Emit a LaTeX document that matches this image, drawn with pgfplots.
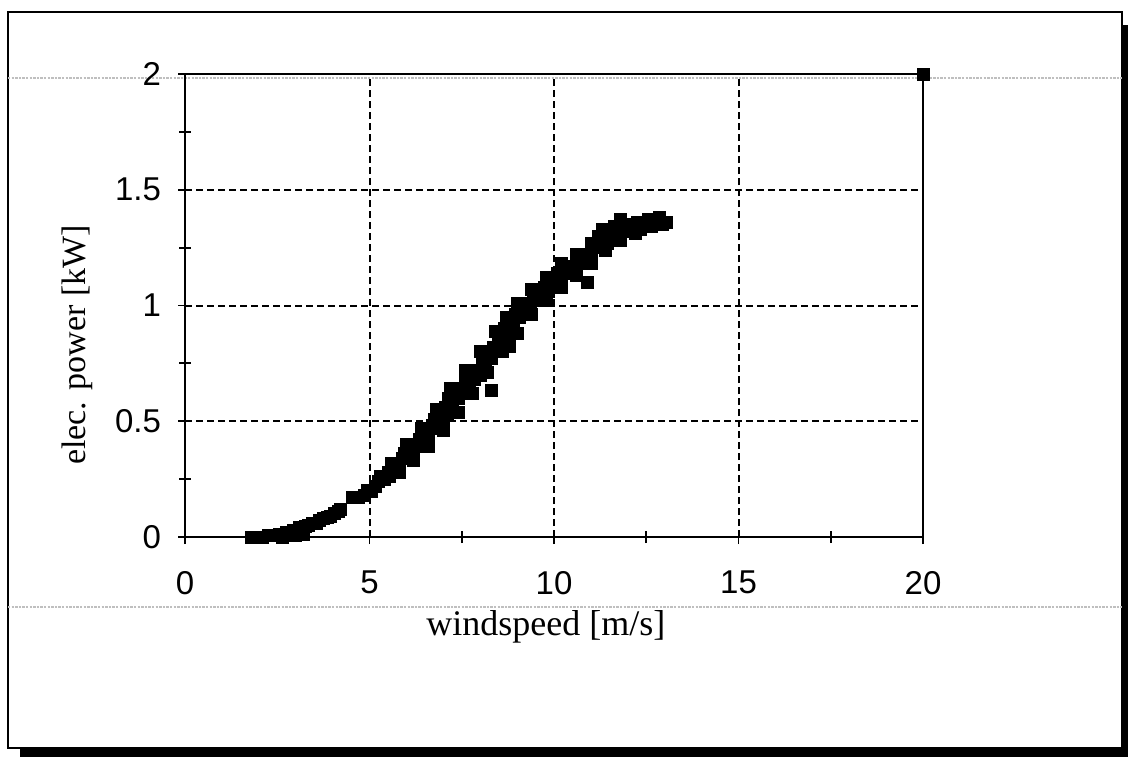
\documentclass[border=0pt]{standalone}
\usepackage{pgfplots}
\pgfplotsset{compat=1.18}
\usepackage{pgfplotstable}
\usepackage{fontspec}
\setmainfont{Liberation Serif}
\newfontfamily\arialf{Liberation Sans}

\pgfplotstableread{
x y
1.80 0.000
1.95 0.000
2.10 0.000
2.25 0.005
2.40 0.005
2.55 0.010
2.65 0.000
2.75 0.020
2.85 0.015
2.95 0.030
3.00 0.005
3.10 0.040
3.20 0.010
3.25 0.045
3.35 0.050
3.45 0.060
3.55 0.060
3.65 0.070
3.75 0.080
3.85 0.085
3.95 0.090
4.05 0.100
4.15 0.110
4.20 0.120
4.55 0.170
4.70 0.170
4.85 0.180
4.95 0.200
5.05 0.195
5.15 0.220
5.25 0.240
5.30 0.260
5.40 0.250
5.50 0.280
5.55 0.260
5.65 0.300
5.70 0.320
5.80 0.310
5.90 0.340
5.95 0.360
6.05 0.350
6.10 0.380
6.20 0.370
6.25 0.400
6.35 0.420
6.40 0.390
6.50 0.440
6.55 0.460
6.60 0.420
6.70 0.480
6.75 0.510
6.85 0.470
6.90 0.530
7.00 0.500
7.05 0.560
7.10 0.530
7.15 0.600
7.25 0.570
7.30 0.620
7.40 0.600
7.45 0.640
7.55 0.620
7.60 0.670
7.70 0.650
7.75 0.690
7.85 0.680
7.90 0.720
8.00 0.700
8.05 0.750
8.15 0.740
8.20 0.790
8.30 0.770
8.35 0.820
8.45 0.800
8.50 0.870
8.60 0.850
8.65 0.900
8.75 0.880
8.80 0.930
8.90 0.920
8.95 0.960
9.05 0.950
9.10 0.990
9.20 0.980
9.30 1.010
9.35 0.990
9.45 1.030
9.55 1.020
9.60 1.060
9.70 1.050
9.75 1.080
9.85 1.060
9.90 1.100
10.00 1.080
10.10 1.140
10.20 1.110
10.30 1.160
10.40 1.140
10.50 1.170
10.60 1.160
10.70 1.200
10.80 1.180
10.90 1.220
11.00 1.210
11.10 1.250
11.20 1.300
11.30 1.280
11.40 1.320
11.45 1.270
11.55 1.300
11.65 1.340
11.75 1.290
11.85 1.320
11.95 1.350
12.05 1.330
12.15 1.340
12.25 1.360
12.35 1.330
12.45 1.350
12.55 1.370
12.65 1.340
12.75 1.360
12.85 1.380
12.95 1.350
13.05 1.360
5.60 0.320
6.00 0.400
6.40 0.470
6.80 0.550
7.20 0.640
7.60 0.720
8.00 0.800
8.40 0.890
8.70 0.950
9.00 1.010
9.40 1.070
9.80 1.120
10.20 1.180
10.60 1.220
11.00 1.270
11.30 1.330
5.80 0.280
6.20 0.330
6.60 0.390
7.00 0.460
7.40 0.540
7.80 0.620
8.20 0.710
8.60 0.800
9.00 0.880
9.40 0.960
9.80 1.020
10.20 1.080
10.60 1.130
11.00 1.180
11.40 1.240
11.80 1.280
12.20 1.310
8.29 0.635
8.80 0.825
10.90 1.100
11.80 1.370
20.00 2.000
}\datatable

\begin{document}
\begin{tikzpicture}
\useasboundingbox (0pt,0pt) rectangle (564pt,378.5pt);
% outer frame with shadow
\draw[line width=0.9pt] (4pt,4.5pt) rectangle (561pt,372.5pt);
\fill[black] (561pt,0pt) rectangle (564pt,366pt);
\fill[black] (10pt,0pt) rectangle (564pt,4.5pt);
% faint scan lines
\draw[gray!50, line width=0.7pt, dash pattern=on 1.2pt off 0.6pt] (4pt,339.5pt) -- (561pt,339.5pt);
\draw[gray!50, line width=0.7pt, dash pattern=on 1.2pt off 0.6pt] (4pt,75pt) -- (561pt,75pt);
\begin{axis}[
  at={(92.5pt,110pt)}, anchor=south west,
  scale only axis, width=369pt, height=231.5pt,
  xmin=0, xmax=20, ymin=0, ymax=2,
  xtick={0,5,10,15,20}, ytick={0,0.5,1,1.5,2},
  minor x tick num=1, minor y tick num=1,
  xtick pos=bottom, ytick pos=left,
  tick align=center,
  major tick length=7pt, minor tick length=6pt,
  tick style={black, line width=0.9pt},
  grid=major,
  major grid style={black, line width=1pt, dash pattern=on 3.5pt off 2pt},
  axis line style={black, line width=1.1pt},
  /pgf/number format/assume math mode=true,
  ticklabel style={font=\arialf\fontsize{16.5}{18}\selectfont},
  yticklabel style={xshift=-5pt},
  xticklabel style={yshift=-10pt},
  xlabel={windspeed [m/s]},
  ylabel={elec. power [kW]},
  xlabel style={font=\fontsize{18}{20}\selectfont, at={(axis description cs:0.489,-0.194)}, anchor=center},
  ylabel style={font=\fontsize{17}{19}\selectfont, at={(axis description cs:-0.146,0.415)}, anchor=center},
  clip=false,
]
\addplot[only marks, mark=square*, mark size=3pt, black] table[x=x, y=y] {\datatable};
\end{axis}
\end{tikzpicture}
\end{document}
